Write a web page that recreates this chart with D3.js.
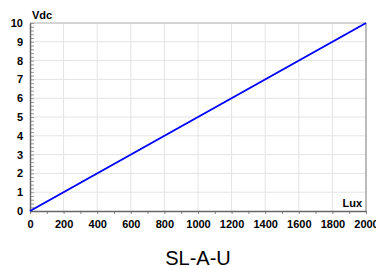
<!DOCTYPE html>
<html>
<head>
<meta charset="utf-8">
<script src="https://cdn.jsdelivr.net/npm/d3@7"></script>
<style>
body { margin: 0; background: #fff; }
svg { font-family: Arial, "Liberation Sans", sans-serif; }
.tick text { font-size: 11px; font-weight: bold; fill: #000; }
</style>
</head>
<body>
<svg width="376" height="268"></svg>
<script>
var luxValues = [0, 2000];
var vdcValues = [0, 10];
var xTicks = [0, 200, 400, 600, 800, 1000, 1200, 1400, 1600, 1800, 2000];
var yTicks = [0, 1, 2, 3, 4, 5, 6, 7, 8, 9, 10];

var svg = d3.select("svg");
var plotLeft = 30, plotRight = 366, plotTop = 23, plotBottom = 211;

var xScale = d3.scaleLinear().domain([0, 2000]).range([plotLeft, plotRight]);
var yScale = d3.scaleLinear().domain([0, 10]).range([plotBottom, plotTop]);

// grid
svg.append("g").selectAll("line").data(xTicks.slice(1)).enter().append("line")
    .attr("x1", d => xScale(d)).attr("x2", d => xScale(d))
    .attr("y1", plotTop).attr("y2", plotBottom)
    .attr("stroke", "#e4e4e4").attr("stroke-width", 1);
svg.append("g").selectAll("line").data(yTicks.slice(1)).enter().append("line")
    .attr("x1", plotLeft).attr("x2", plotRight)
    .attr("y1", d => yScale(d)).attr("y2", d => yScale(d))
    .attr("stroke", "#e4e4e4").attr("stroke-width", 1);

// borders top/right
svg.append("line").attr("x1", plotLeft).attr("x2", plotRight).attr("y1", plotTop).attr("y2", plotTop)
    .attr("stroke", "#d4d4d4").attr("stroke-width", 2);
svg.append("line").attr("x1", plotRight).attr("x2", plotRight).attr("y1", plotTop).attr("y2", plotBottom)
    .attr("stroke", "#a8a8a8").attr("stroke-width", 1.5);

// minor ticks
svg.append("g").attr("transform", "translate(" + plotLeft + ",0)")
    .call(d3.axisRight(yScale).ticks(50).tickSize(4).tickFormat(""))
    .call(g => g.select(".domain").remove())
    .selectAll("line").attr("stroke", "#999");
svg.append("g").attr("transform", "translate(0," + plotBottom + ")")
    .call(d3.axisBottom(xScale).ticks(20).tickSize(3).tickFormat(""))
    .call(g => g.select(".domain").remove())
    .selectAll("line").attr("stroke", "#888");

// axes
var yAxis = svg.append("g").attr("transform", "translate(" + plotLeft + ",0)")
    .call(d3.axisLeft(yScale).tickValues(yTicks).tickSize(0).tickPadding(7).tickFormat(d3.format("d")));
yAxis.select(".domain").attr("stroke", "#666").attr("stroke-width", 1.5);

var xAxis = svg.append("g").attr("transform", "translate(0," + plotBottom + ")")
    .call(d3.axisBottom(xScale).tickValues(xTicks).tickSize(0).tickPadding(9).tickFormat(d3.format("d")));
xAxis.select(".domain").attr("stroke", "#666").attr("stroke-width", 1.5);

// series
var line = d3.line().x(d => xScale(d[0])).y(d => yScale(d[1]));
svg.append("path")
    .datum(luxValues.map((v, i) => [v, vdcValues[i]]))
    .attr("d", line)
    .attr("fill", "none")
    .attr("stroke", "#0000ff")
    .attr("stroke-width", 2);

// labels
svg.append("text").attr("x", 32).attr("y", 19)
    .attr("font-size", 11).attr("font-weight", "bold").text("Vdc");
svg.append("text").attr("x", 362).attr("y", 207).attr("text-anchor", "end")
    .attr("font-size", 11).attr("font-weight", "bold").text("Lux");
svg.append("text").attr("x", 198).attr("y", 265).attr("text-anchor", "middle")
    .attr("font-size", 20).text("SL-A-U");
</script>
</body>
</html>
